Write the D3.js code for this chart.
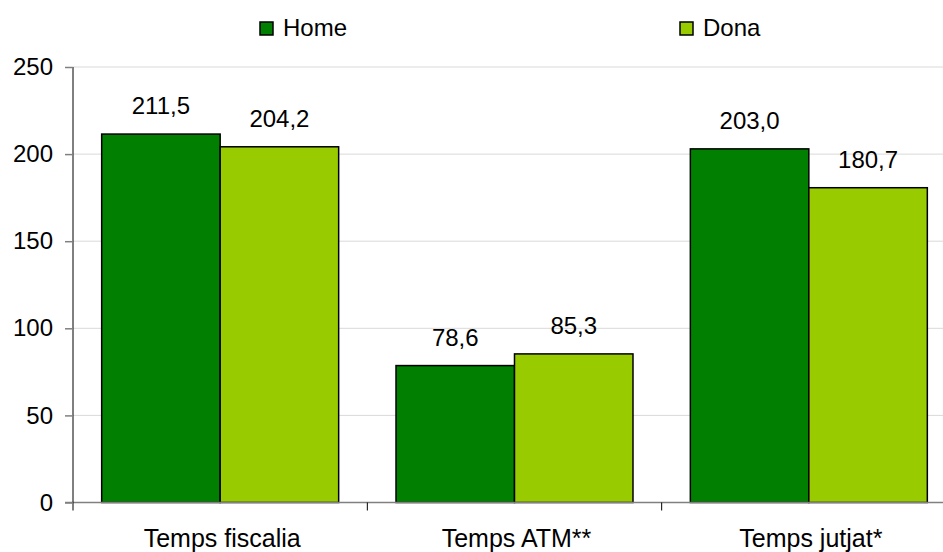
<!DOCTYPE html>
<html><head><meta charset="utf-8">
<script src="https://cdn.jsdelivr.net/npm/d3@7"></script>
<style>body{margin:0;background:#fff}text{font-family:"Liberation Sans",Arial,sans-serif}</style>
</head><body>
<svg id="c" width="943" height="552"></svg>
<script>
const categories = ["Temps fiscalia", "Temps ATM**", "Temps jutjat*"];
const seriesNames = ["Home", "Dona"];
const homeValues = [211.5, 78.6, 203.0];
const donaValues = [204.2, 85.3, 180.7];
const yTicks = [0, 50, 100, 150, 200, 250];
const colors = ["#007f00", "#99cc00"];

const svg = d3.select("#c");
const mLeft = 73, mRight = 956, mTop = 67, mBottom = 502.5;
const x = d3.scaleBand().domain(categories).range([mLeft, mRight]).paddingInner(0).paddingOuter(0);
const y = d3.scaleLinear().domain([0, 250]).range([mBottom, mTop]);
const x1 = d3.scaleBand().domain(seriesNames).range([0, x.bandwidth()]).paddingOuter(0.242).paddingInner(0);

// gridlines
svg.append("g").selectAll("line").data(yTicks.filter(d => d > 0)).join("line")
  .attr("x1", mLeft).attr("x2", 943).attr("y1", d => y(d)).attr("y2", d => y(d))
  .attr("stroke", "#d9d9d9").attr("stroke-width", 1);

const fmt = v => v.toFixed(1).replace(".", ",");
const data = categories.map((c, i) => ({c, vals: [homeValues[i], donaValues[i]]}));

const g = svg.append("g").selectAll("g").data(data).join("g")
  .attr("transform", d => `translate(${x(d.c)},0)`);
g.selectAll("rect").data(d => d.vals.map((v, j) => ({v, s: seriesNames[j], j}))).join("rect")
  .attr("x", d => x1(d.s)).attr("width", x1.bandwidth())
  .attr("y", d => y(d.v)).attr("height", d => y(0) - y(d.v))
  .attr("fill", d => colors[d.j]).attr("stroke", "#000").attr("stroke-width", 1.5);
g.selectAll("text.val").data(d => d.vals.map((v, j) => ({v, s: seriesNames[j], j}))).join("text")
  .attr("class", "val")
  .attr("x", d => x1(d.s) + x1.bandwidth() / 2).attr("y", d => y(d.v) - 20)
  .attr("text-anchor", "middle").attr("font-size", 24).attr("fill", "#000")
  .text(d => fmt(d.v));

// x axis line (gray), drawn under y axis
const xa = svg.append("g").attr("transform", `translate(0,${mBottom})`);
xa.append("line").attr("x1", mLeft - 8).attr("x2", 943).attr("y1", 0).attr("y2", 0).attr("stroke", "#808080").attr("stroke-width", 1.5);
xa.selectAll("line.t").data([0, 1, 2]).join("line").attr("class", "t")
  .attr("x1", i => mLeft + i * x.bandwidth()).attr("x2", i => mLeft + i * x.bandwidth())
  .attr("y1", 0).attr("y2", 8).attr("stroke", "#000");
xa.selectAll("text.cat").data(categories).join("text").attr("class", "cat")
  .attr("x", d => x(d) + x.bandwidth() / 2 + 2).attr("y", 44)
  .attr("text-anchor", "middle").attr("font-size", 25).attr("fill", "#000").text(d => d);

// y axis
const ya = svg.append("g").attr("transform", `translate(${mLeft},0)`)
  .call(d3.axisLeft(y).tickValues(yTicks).tickSize(8).tickPadding(12).tickFormat(d3.format("d")));
ya.select(".domain").attr("stroke", "#000").attr("d", `M0,${mBottom}V${mTop}`);
ya.selectAll(".tick line").attr("stroke", "#808080").attr("stroke-width", 1.5);
ya.selectAll(".tick text").attr("font-size", 24).attr("fill", "#000").attr("font-family", "Liberation Sans, Arial, sans-serif");

// legend
const leg = svg.append("g");
const legX = [260, 680];
seriesNames.forEach((s, i) => {
  leg.append("rect").attr("x", legX[i]).attr("y", 22).attr("width", 13).attr("height", 13)
    .attr("fill", colors[i]).attr("stroke", "#000").attr("stroke-width", 1.5);
  leg.append("text").attr("x", legX[i] + 23).attr("y", 36).attr("font-size", 24).attr("fill", "#000").text(s);
});
</script>
</body></html>
